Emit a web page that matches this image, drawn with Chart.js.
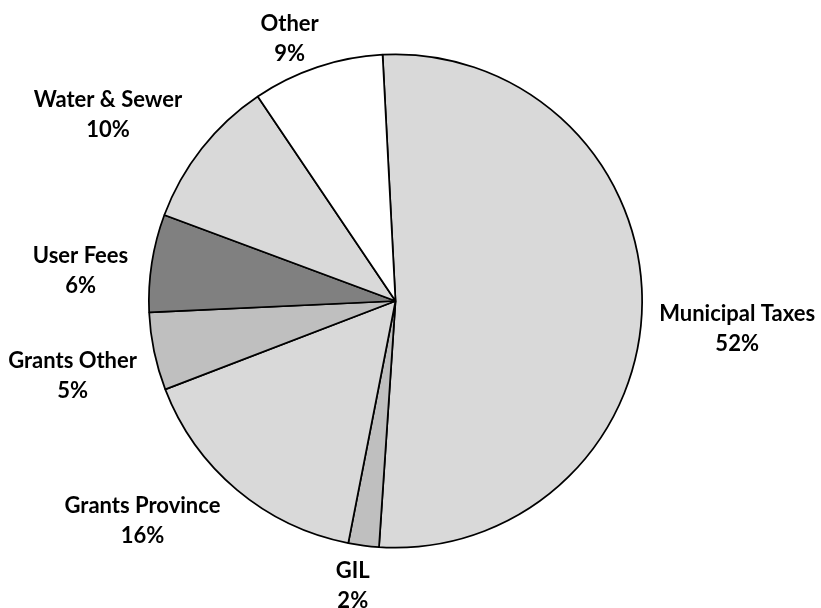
<!DOCTYPE html>
<html>
<head>
<meta charset="utf-8">
<script src="https://cdn.jsdelivr.net/npm/chart.js@4/dist/chart.umd.min.js"></script>
<style>
  html, body { margin: 0; padding: 0; background: #ffffff; }
  #wrap { width: 821px; height: 608px; position: relative; }
</style>
</head>
<body>
<div id="wrap"><canvas id="c"></canvas></div>
<script>
// ---- data ----
const categories = ["Municipal Taxes", "GIL", "Grants Province", "Grants Other", "User Fees", "Water & Sewer", "Other"];
const shares = [51.9, 2.0, 16.1, 5.1, 6.4, 9.9, 8.6];
const sliceColors = ["#d9d9d9", "#bfbfbf", "#d9d9d9", "#bfbfbf", "#808080", "#d9d9d9", "#ffffff"];

// label placement (angle offset from slice middle in degrees, distance as fraction of radius)
const labelAngleOffset = [4.3, 1.1, 9.0, -1.2, -3.4, -5.3, -3.5];
const labelDistance = [1.39, 1.167, 1.359, 1.344, 1.283, 1.389, 1.147];

const total = shares.reduce((a, b) => a + b, 0);

const labelPlugin = {
  id: 'outsideLabels',
  afterDatasetsDraw(chart) {
    const ctx = chart.ctx;
    const meta = chart.getDatasetMeta(0);
    ctx.save();
    ctx.fillStyle = '#000000';
    ctx.font = 'bold 22px Lato, "Open Sans", sans-serif';
    ctx.textAlign = 'center';
    ctx.textBaseline = 'middle';
    meta.data.forEach((arc, i) => {
      const p = arc.getProps(['x', 'y', 'startAngle', 'endAngle', 'outerRadius'], true);
      const mid = (p.startAngle + p.endAngle) / 2 + labelAngleOffset[i] * Math.PI / 180;
      const d = p.outerRadius * labelDistance[i];
      const cx = p.x + Math.cos(mid) * d;
      const cy = p.y + Math.sin(mid) * d;
      const pct = Math.round(shares[i] / total * 100) + '%';
      ctx.fillText(categories[i], cx, cy - 15);
      ctx.fillText(pct, cx, cy + 15);
    });
    ctx.restore();
  }
};

new Chart(document.getElementById('c'), {
  type: 'pie',
  data: {
    labels: categories,
    datasets: [{
      data: shares,
      backgroundColor: sliceColors,
      borderColor: '#000000',
      borderWidth: 1.75
    }]
  },
  options: {
    responsive: true,
    maintainAspectRatio: false,
    animation: false,
    rotation: -3,
    layout: { padding: { top: 53, bottom: 59, left: 148, right: 178 } },
    plugins: {
      legend: { display: false },
      tooltip: { enabled: false }
    }
  },
  plugins: [labelPlugin]
});
</script>
</body>
</html>
